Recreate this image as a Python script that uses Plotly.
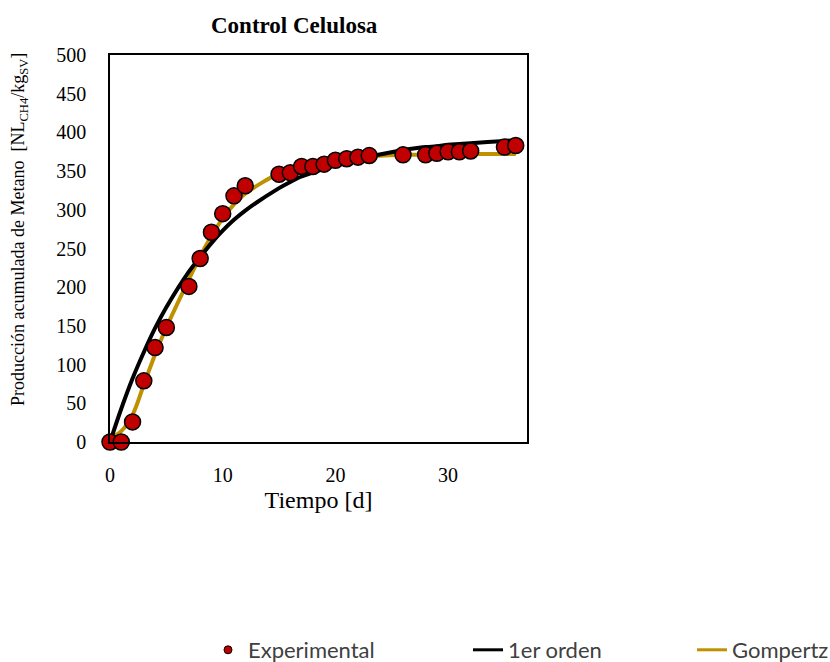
import plotly.graph_objects as go

# Data
t_exp = [0, 1, 2, 3, 4, 5, 7, 8, 9, 10, 11, 12, 15, 16, 17, 18, 19, 20, 21, 22, 23, 26, 28, 29, 30, 31, 32, 35, 36]
y_exp = [0, 0, 26, 79, 122, 148, 201, 237, 271, 295, 318, 331, 346, 348, 356, 356, 359, 364, 366, 368, 370, 371, 371, 373, 375, 375, 376, 381, 383]

t_mod = [0, 1, 2, 3, 4, 5, 7, 8, 9, 10, 11, 12, 15, 16, 17, 18, 19, 20, 21, 22, 23, 26, 28, 29, 30, 31, 32, 35, 36]
y_first = [0, 43, 82, 116, 147, 174, 220, 239, 257, 273, 287, 299, 328, 336, 343, 348, 353, 358, 362, 366, 369, 377, 381, 382, 384, 385, 386, 389, 390]
y_gomp = [5, 14, 35, 74, 113, 148, 210, 240, 266, 289, 307, 321, 347, 352, 357, 360, 363, 365, 367, 368, 369, 371, 371, 372, 372, 372, 372, 372, 372]

x_ticks = [0, 10, 20, 30]
y_ticks = [0, 50, 100, 150, 200, 250, 300, 350, 400, 450, 500]

RED = "#C00000"
GOLD = "#BF9000"
serif = "Liberation Serif"
sans = "Lato"

fig = go.Figure()
fig.add_trace(go.Scatter(x=t_mod, y=y_gomp, mode="lines", line=dict(color=GOLD, width=4, shape="spline"),
                         showlegend=False, cliponaxis=False))
fig.add_trace(go.Scatter(x=t_mod, y=y_first, mode="lines", line=dict(color="black", width=4, shape="spline"),
                         showlegend=False, cliponaxis=False))
fig.add_trace(go.Scatter(x=t_exp, y=y_exp, mode="markers",
                         marker=dict(color=RED, size=16, line=dict(color="black", width=1.5)),
                         showlegend=False, cliponaxis=False))

# legend-only entries
fig.add_trace(go.Scatter(x=[None], y=[None], mode="markers", name="Experimental",
                         marker=dict(color=RED, size=8, line=dict(color="black", width=1)), legend="legend"))
fig.add_trace(go.Scatter(x=[None], y=[None], mode="lines", name="1er orden",
                         line=dict(color="black", width=3), legend="legend2"))
fig.add_trace(go.Scatter(x=[None], y=[None], mode="lines", name="Gompertz",
                         line=dict(color=GOLD, width=3), legend="legend3"))

leg_common = dict(xref="container", yref="container", yanchor="middle", xanchor="left",
                  font=dict(family=sans, size=22, color="#404040"), bgcolor="rgba(0,0,0,0)",
                  borderwidth=0, orientation="h")
fig.update_layout(
    width=830, height=662,
    margin=dict(l=110, r=303, t=55, b=220),
    paper_bgcolor="white", plot_bgcolor="white",
    showlegend=True,
    legend=dict(x=208 / 830, y=(662 - 650) / 662, **leg_common),
    legend2=dict(x=468 / 830, y=(662 - 650) / 662, **leg_common),
    legend3=dict(x=692 / 830, y=(662 - 650) / 662, **leg_common),
    xaxis=dict(range=[0, 37], tickvals=x_ticks, ticktext=[str(v) for v in x_ticks],
               showgrid=False, zeroline=False, showline=True, linecolor="black", linewidth=1.5,
               mirror=True, ticks="", ticklabelstandoff=14,
               tickfont=dict(family=serif, size=20, color="black"),
               title=dict(text="Tiempo [d]", font=dict(family=serif, size=24, color="black"), standoff=6)),
    yaxis=dict(range=[0, 500], tickvals=y_ticks, ticktext=[str(v) for v in y_ticks],
               showgrid=False, zeroline=False, showline=True, linecolor="black", linewidth=1.5,
               mirror=True, ticks="", ticklabelstandoff=18,
               tickfont=dict(family=serif, size=20, color="black")),
    annotations=[
        dict(text="<b>Control Celulosa</b>", xref="paper", yref="paper",
             x=(294 - 110) / 417, y=(442 - 25) / 387, xanchor="center", yanchor="middle",
             showarrow=False, font=dict(family=serif, size=23, color="black")),
        dict(text="Producción acumulada de Metano  [NL<sub>CH4</sub>/kg<sub>SV</sub>]",
             xref="paper", yref="paper", x=(19 - 110) / 417, y=(442 - 230) / 387,
             xanchor="center", yanchor="middle", textangle=-90, showarrow=False,
             font=dict(family=serif, size=18, color="black")),
    ],
)

fig.write_html("out.html")
